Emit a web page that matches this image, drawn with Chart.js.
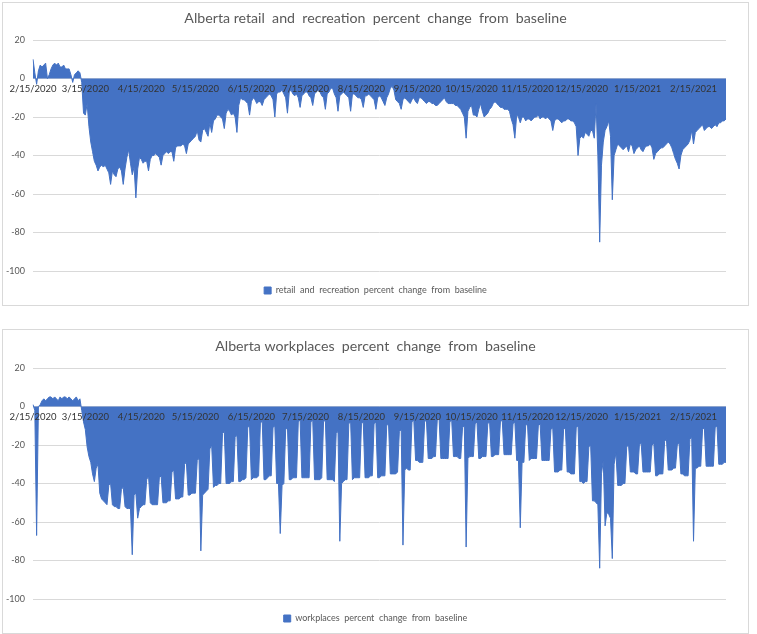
<!DOCTYPE html>
<html>
<head>
<meta charset="utf-8">
<script src="https://cdn.jsdelivr.net/npm/chart.js@4/dist/chart.umd.min.js"></script>
<style>
  body { margin: 0; background: #fff; }
  .box { position: absolute; left: 2px; width: 745px; border: 1px solid #d9d9d9; background: #fff; }
  #box1 { top: 2px; height: 302px; }
  #box2 { top: 329px; height: 303px; }
</style>
</head>
<body>
<div class="box" id="box1"><canvas id="retailChart"></canvas></div>
<div class="box" id="box2"><canvas id="workChart"></canvas></div>
<script>
// daily values, one row = one week (Sat..Fri), starting 2/15/2020
const retail = [
  10, 3, -3, 4, 7, 6, 7,
  8, 0, 2, 5, 7, 8, 7,
  8, 6, 6, 7, 5, 5, 5,
  2, -2, 2, 3, 4, 3, -2,
  -18, -19, -13, -25, -33, -38, -43,
  -45, -48, -46, -45, -46, -45, -47,
  -49, -55, -48, -50, -51, -47, -46,
  -48, -55, -47, -41, -37, -44, -50,
  -46, -62, -47, -41, -42, -44, -43,
  -43, -48, -42, -40, -40, -39, -40,
  -41, -45, -40, -39, -38, -39, -38,
  -38, -43, -36, -35, -35, -35, -34,
  -35, -39, -34, -33, -32, -31, -30,
  -27, -32, -33, -27, -26, -28, -30,
  -23, -28, -22, -21, -19, -19, -20,
  -21, -26, -18, -16, -17, -19, -18,
  -20, -28, -14, -10, -11, -11, -12,
  -13, -19, -12, -10, -11, -13, -12,
  -12, -14, -11, -10, -9, -8, -9,
  -11, -20, -8, -7, -7, -6, -8,
  -10, -18, -7, -6, -8, -9, -8,
  -10, -15, -9, -8, -7, -7, -9,
  -10, -14, -8, -7, -6, -7, -9,
  -10, -16, -8, -7, -5, -5, -8,
  -10, -17, -9, -8, -7, -8, -9,
  -10, -17, -8, -8, -9, -10, -10,
  -11, -15, -9, -9, -8, -9, -10,
  -11, -16, -10, -9, -10, -12, -14,
  -10, -8, -5, -4, -6, -11, -12,
  -13, -16, -11, -10, -11, -12, -13,
  -11, -10, -12, -13, -10, -10, -11,
  -12, -13, -12, -12, -13, -13, -14,
  -14, -13, -12, -11, -10, -12, -13,
  -13, -13, -13, -14, -14, -15, -16,
  -18, -20, -31, -17, -15, -14, -19,
  -19, -20, -16, -13, -17, -20, -19,
  -18, -16, -15, -13, -12, -13, -14,
  -15, -15, -16, -16, -16, -17, -21,
  -24, -31, -19, -20, -23, -20, -20,
  -22, -21, -21, -22, -21, -20, -20,
  -19, -21, -20, -20, -21, -20, -21,
  -22, -27, -22, -21, -21, -22, -23,
  -22, -22, -21, -21, -22, -22, -23,
  -25, -40, -31, -30, -31, -28, -29,
  -30, -27, -27, -31, -13, -40, -85,
  -45, -33, -27, -25, -22, -30, -63,
  -40, -37, -34, -35, -36, -37, -36,
  -35, -38, -34, -35, -39, -37, -36,
  -35, -37, -38, -36, -35, -35, -34,
  -36, -42, -39, -38, -37, -36, -36,
  -35, -34, -33, -34, -36, -39, -42,
  -44, -47, -40, -37, -36, -35, -34,
  -32, -27, -34, -28, -27, -26, -25,
  -24, -27, -26, -25, -25, -26, -25,
  -24, -25, -23, -23, -22, -22, -21
];

const workplaces = [
  1, -2, -67, 0, 1, 3, 4,
  3, 4, 5, 5, 4, 5, 4,
  3, 5, 4, 5, 5, 4, 5,
  4, 3, 4, 5, 3, 4, -2,
  -8, -12, -21, -26, -29, -35, -39,
  -32, -30, -45, -48, -49, -50, -51,
  -41, -40, -51, -52, -52, -53, -53,
  -43, -42, -52, -53, -53, -53, -77,
  -46, -45, -58, -53, -52, -51, -51,
  -38, -36, -50, -51, -51, -51, -51,
  -37, -36, -50, -50, -50, -49, -49,
  -34, -33, -48, -48, -48, -47, -47,
  -30, -29, -46, -46, -45, -45, -45,
  -28, -27, -75, -46, -45, -44, -43,
  -22, -20, -42, -41, -41, -40, -40,
  -14, -13, -40, -40, -40, -39, -39,
  -16, -15, -39, -39, -38, -38, -37,
  -11, -10, -38, -37, -37, -37, -36,
  -9, -7, -38, -38, -37, -36, -36,
  -11, -10, -40, -40, -66, -41, -40,
  -12, -11, -38, -38, -37, -37, -37,
  -8, -7, -37, -37, -37, -37, -37,
  -8, -7, -38, -38, -38, -38, -37,
  -8, -7, -38, -38, -38, -38, -39,
  -14, -13, -70, -40, -39, -38, -38,
  -9, -8, -38, -37, -37, -37, -37,
  -9, -8, -37, -37, -37, -36, -36,
  -9, -8, -37, -37, -36, -36, -36,
  -10, -9, -35, -35, -35, -35, -34,
  -13, -12, -72, -33, -32, -33, -33,
  -8, -7, -28, -28, -29, -29, -29,
  -8, -7, -27, -27, -27, -26, -26,
  -7, -6, -27, -27, -27, -27, -27,
  -8, -7, -26, -26, -26, -27, -27,
  -11, -10, -73, -27, -26, -26, -26,
  -9, -8, -27, -27, -26, -26, -26,
  -9, -8, -26, -26, -25, -25, -25,
  -8, -7, -25, -25, -25, -25, -25,
  -9, -8, -28, -28, -63, -29, -29,
  -10, -9, -28, -27, -27, -27, -27,
  -10, -9, -28, -28, -28, -28, -28,
  -12, -11, -34, -34, -34, -33, -33,
  -12, -11, -34, -34, -35, -35, -35,
  -11, -10, -39, -39, -40, -39, -39,
  -21, -20, -49, -49, -50, -51, -84,
  -35, -28, -62, -55, -56, -58, -79,
  -30, -24, -41, -41, -41, -40, -40,
  -21, -20, -34, -34, -34, -35, -35,
  -20, -19, -34, -34, -34, -34, -34,
  -20, -19, -36, -36, -35, -35, -35,
  -18, -17, -33, -33, -33, -32, -32,
  -20, -19, -35, -35, -36, -36, -36,
  -17, -16, -70, -32, -32, -31, -31,
  -12, -11, -31, -31, -31, -31, -31,
  -11, -10, -30, -30, -30, -29, -29
];

const tickLabels = [
  '2/15/2020', '3/15/2020', '4/15/2020', '5/15/2020', '6/15/2020', '7/15/2020',
  '8/15/2020', '9/15/2020', '10/15/2020', '11/15/2020', '12/15/2020', '1/15/2021', '2/15/2021'
];
const yTicks = [20, 0, -20, -40, -60, -80, -100];

// one category per day
const dates = retail.map(function (_, i) {
  const d = new Date(2020, 1, 15 + i);
  return (d.getMonth() + 1) + '/' + d.getDate() + '/' + d.getFullYear();
});

const blue = '#4472C4';
const grey = '#595959';
const fontName = 'Lato, "Liberation Sans", sans-serif';

function makeChart(id, title, label, values, titleTop) {
  return new Chart(document.getElementById(id), {
    type: 'line',
    data: {
      labels: dates,
      datasets: [{
        label: label,
        data: values,
        fill: 'origin',
        backgroundColor: blue,
        borderColor: blue,
        borderWidth: 1,
        pointRadius: 0,
        tension: 0
      }]
    },
    options: {
      responsive: true,
      maintainAspectRatio: false,
      animation: false,
      plugins: {
        title: {
          display: true,
          text: title,
          color: grey,
          font: { family: fontName, size: 14.2, weight: 'normal' },
          padding: { top: titleTop, bottom: 13 }
        },
        legend: {
          position: 'bottom',
          labels: {
            color: grey,
            font: { family: fontName, size: 9 },
            boxWidth: 7,
            boxHeight: 7,
            padding: 15
          }
        },
        tooltip: { enabled: false }
      },
      scales: {
        x: {
          type: 'category',
          position: { y: 0 },
          offset: false,
          grid: { display: false, drawTicks: false },
          border: { display: false },
          ticks: {
            z: 1,
            autoSkip: false,
            maxRotation: 0,
            padding: 5,
            color: '#333333',
            font: { family: fontName, size: 9.5 }
          },
          afterBuildTicks: function (s) {
            s.ticks = s.ticks.filter(function (t) { return tickLabels.includes(dates[t.value]); });
          }
        },
        y: {
          min: -100,
          max: 20,
          grid: { color: '#d9d9d9', drawTicks: false },
          border: { display: false },
          ticks: {
            color: grey,
            padding: 8,
            font: { family: fontName, size: 9 }
          },
          afterBuildTicks: function (s) {
            s.ticks = yTicks.map(function (v) { return { value: v }; });
          },
          afterFit: function (s) { s.width = 30; }
        },
        // empty strip on the right so the plot ends where the original does
        gap: {
          type: 'linear',
          position: 'right',
          grid: { display: false },
          border: { display: false },
          ticks: { display: false },
          afterFit: function (s) { s.width = 22; }
        }
      }
    }
  });
}

window.addEventListener('load', function () {
  makeChart('retailChart',
    'Alberta retail  and  recreation  percent  change  from  baseline',
    'retail  and  recreation  percent  change  from  baseline',
    retail, 7);
  makeChart('workChart',
    'Alberta workplaces  percent  change  from  baseline',
    'workplaces  percent  change  from  baseline',
    workplaces, 8);
});
</script>
</body>
</html>
